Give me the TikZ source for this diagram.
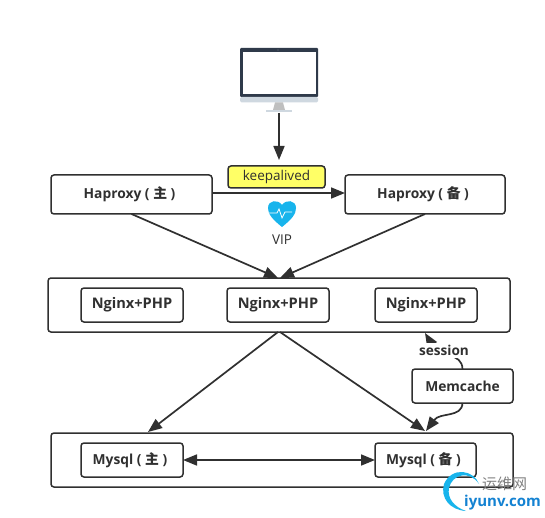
\documentclass[tikz,border=0pt]{standalone}
\usepackage{fontspec}
\setmainfont{Open Sans}
\newfontfamily\cjkb{Noto Sans CJK SC Bold}
\newfontfamily\cjkr{Noto Sans CJK SC}
\usetikzlibrary{arrows.meta}
\definecolor{ink}{HTML}{303030}
\definecolor{dark}{HTML}{2F3A4A}
\definecolor{heart}{HTML}{18B4EC}
\definecolor{wmblue}{HTML}{1482D2}
\definecolor{screenbase}{HTML}{CFD8E0}
\definecolor{note}{HTML}{FFFF66}
\tikzset{
 x=1pt,y=-1pt,
 box/.style={draw=ink,line width=1.5pt,rounded corners=3pt,fill=white,inner sep=0pt,outer sep=0pt,anchor=north west,font=\bfseries\fontsize{13.8}{15}\selectfont,text=ink},
 bigtext/.style={font=\bfseries\fontsize{14.6}{15}\selectfont},
 conn/.style={draw=ink,line width=1.7pt,-{Triangle[length=14pt,width=11pt]}},
}
\begin{document}
\begin{tikzpicture}
\useasboundingbox (0,0) rectangle (545,518);
\fill[white] (0,0) rectangle (545,518);
% monitor
\fill[dark,rounded corners=1pt] (240,48) rectangle (318,97);
\fill[white] (243,52) rectangle (316,94);
\fill[dark!70] (278,50) circle (0.6);
\fill[screenbase,rounded corners=1.5pt] (240,97) rectangle (318,102.5);
\fill[black!25!white] (275,102.5) -- (283,102.5) -- (285,110) -- (273,110) -- cycle;
\fill[screenbase] (266,110) rectangle (292,112.5);
\coordinate (mon) at (279,113);
% boxes
\node[box,minimum width=161pt,minimum height=39pt] (hm) at (51,175) {Haproxy ( {\cjkb 主} )\hspace*{4pt}};
\node[box,minimum width=160pt,minimum height=39pt] (hb) at (345,175) {Haproxy ( {\cjkb 备} )\hspace*{4pt}};
\node[box,minimum width=462pt,minimum height=54pt] (web) at (48,278) {};
\node[box,bigtext,minimum width=102pt,minimum height=34pt] (n1) at (81,288) {Nginx+PHP};
\node[box,bigtext,minimum width=102pt,minimum height=34pt] (n2) at (227,288) {Nginx+PHP};
\node[box,bigtext,minimum width=102pt,minimum height=34pt] (n3) at (375,288) {Nginx+PHP};
\node[box,minimum width=462pt,minimum height=54pt] (db) at (51,433) {};
\node[box,minimum width=102pt,minimum height=34pt] (m1) at (81,443) {Mysql ( {\cjkb 主} )\hspace*{4pt}};
\node[box,minimum width=101pt,minimum height=34pt] (m2) at (375,443) {Mysql ( {\cjkb 备} )\hspace*{4pt}};
\node[box,minimum width=101pt,minimum height=34pt] (mc) at (412,369) {Memcache};
\coordinate (webin1) at (278,278);
\coordinate (webin2) at (280,278);
\coordinate (webout1) at (278,332);
\coordinate (webout2) at (280,332);
\coordinate (dbin1) at (148,432);
\coordinate (dbin2) at (425,431);
\coordinate (dbin3) at (426,431);
\coordinate (webin3) at (425,333);
% connectors
\draw[conn] (mon) -- (279,160);
\draw[conn] ([yshift=1.5pt]hm.east) -- ([yshift=1.5pt]hb.west);
\node[draw=ink,line width=1.5pt,rounded corners=3pt,fill=note,minimum width=97pt,minimum height=22pt,inner sep=0pt,outer sep=0pt,anchor=north west,font=\fontsize{13.5}{15}\selectfont,text=ink] (ka) at (228,166) {keepalived};
\draw[conn] (hm.south) -- (webin1);
\draw[conn] (hb.south) -- (webin2);
\draw[conn] (webout1) -- (dbin1);
\draw[conn] (webout2) -- (dbin2);
\draw[conn,{Triangle[length=14pt,width=11pt]}-{Triangle[length=14pt,width=11pt]}] (m1.east) -- (m2.west);
\draw[conn] (mc.south) .. controls (462,418) and (440,412) .. (dbin3);
\draw[conn] (mc.north) .. controls (462,352) and (440,358) .. (webin3);
\node[fill=white,inner sep=2pt,font=\bfseries\fontsize{13.6}{15}\selectfont,text=ink] (sess) at (444,350.5) {session};
% heart
\fill[heart] (282,227) .. controls (272,219) and (268,214) .. (268,208) .. controls (268,200) and (278,199) .. (282,205) .. controls (286,199) and (296,200) .. (296,208) .. controls (296,214) and (292,219) .. (282,227) -- cycle;
\draw[white,line width=0.8pt] (268,213) -- (277,213) -- (279,209) -- (282,218) -- (285,212) -- (292,212);
\node[font=\fontsize{13.5}{15}\selectfont,text=ink] (vip) at (282,240) {VIP};
% watermark
\fill[heart] (479,484) .. controls (474,470) and (452,466) .. (444,484) .. controls (440,498) and (450,510) .. (466,511) .. controls (454,507) and (447,498) .. (449,488) .. controls (452,474) and (470,470) .. (479,484) -- cycle;
\node[anchor=west,inner sep=0pt,font=\fontsize{15}{17}\selectfont,text=black!50] (wm1) at (482,484) {\cjkr 运维网};
\node[anchor=west,inner sep=0pt,font=\bfseries\fontsize{15}{17}\selectfont,text=wmblue] (wm2) at (464,503) {iyunv.com};
\end{tikzpicture}
\end{document}
